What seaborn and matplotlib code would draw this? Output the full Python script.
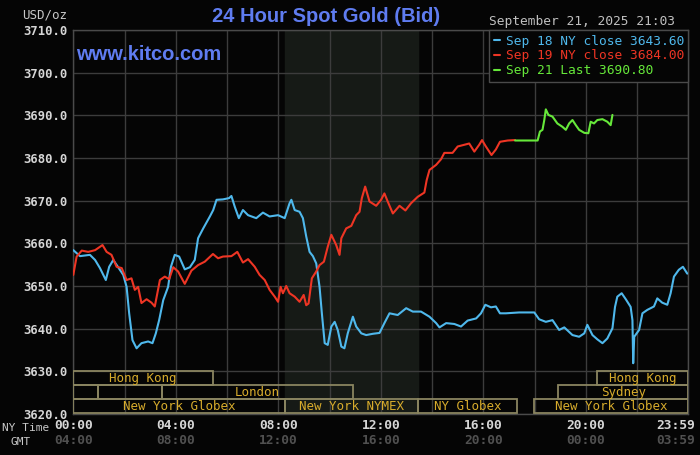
import numpy as np
import pandas as pd
import seaborn as sns
import matplotlib
matplotlib.use('Agg')
import matplotlib.pyplot as plt
from matplotlib.patches import Rectangle

## Data (hours since 00:00 NY time, price in USD/oz)
blue_t = [0, 0.26, 0.65, 0.85, 1.04, 1.27, 1.40, 1.56, 1.75, 1.95, 2.08, 2.18, 2.31, 2.47, 2.66,
          2.92, 3.09, 3.22, 3.35, 3.51, 3.70, 3.81, 3.96, 4.13, 4.35, 4.55, 4.74, 4.87, 5.07, 5.33,
          5.46, 5.59, 5.84, 6.08, 6.17, 6.30, 6.46, 6.62, 6.82, 7.14, 7.40, 7.66, 7.99, 8.25, 8.44,
          8.51, 8.64, 8.83, 8.96, 9.09, 9.22, 9.35, 9.48, 9.61, 9.70, 9.81, 9.93, 10.07, 10.20,
          10.32, 10.46, 10.58, 10.71, 10.91, 11.04, 11.24, 11.43, 11.69, 11.95, 12.14, 12.34, 12.66,
          12.99, 13.25, 13.57, 13.90, 14.16, 14.29, 14.55, 14.87, 15.13, 15.39, 15.72, 15.91, 16.08,
          16.30, 16.49, 16.65, 16.88, 17.40, 17.99, 18.18, 18.44, 18.70, 18.96, 19.16, 19.48, 19.74,
          19.94, 20.06, 20.26, 20.45, 20.65, 20.84, 21.04, 21.14, 21.23, 21.40, 21.56, 21.75, 21.82,
          21.85, 21.89, 22.08, 22.21, 22.40, 22.66, 22.79, 22.98, 23.18, 23.31, 23.44, 23.63, 23.79,
          23.96]
blue_v = [3658.4, 3657.0, 3657.3, 3656.1, 3654.2, 3651.4, 3654.5, 3656.1, 3654.4, 3652.6, 3649.8,
          3643.6, 3637.3, 3635.4, 3636.6, 3637.0, 3636.6, 3638.9, 3642.0, 3646.7, 3649.8, 3654.5,
          3657.3, 3656.9, 3653.9, 3654.4, 3656.1, 3661.2, 3663.5, 3666.3, 3667.8, 3670.2, 3670.3,
          3670.6, 3671.1, 3668.6, 3665.9, 3667.8, 3666.6, 3665.9, 3667.2, 3666.3, 3666.6, 3665.9,
          3669.4, 3670.2, 3667.8, 3667.4, 3665.9, 3661.6, 3658.0, 3657.0, 3655.3, 3649.8, 3643.6,
          3636.6, 3636.2, 3640.5, 3641.6, 3639.7, 3635.8, 3635.4, 3638.9, 3642.8, 3640.5, 3638.9,
          3638.5, 3638.8, 3639.0, 3641.3, 3643.6, 3643.2, 3644.8, 3644.0, 3644.0, 3642.8, 3641.3,
          3640.3, 3641.3, 3641.1, 3640.5, 3641.9, 3642.4, 3643.6, 3645.6, 3645.0, 3645.2, 3643.6,
          3643.6, 3643.8, 3643.8, 3642.2, 3641.6, 3642.0, 3639.7, 3640.3, 3638.5, 3638.1, 3638.9,
          3640.9, 3638.5, 3637.5, 3636.6, 3637.7, 3640.1, 3645.1, 3647.5, 3648.3, 3646.9, 3645.1,
          3642.0, 3631.9, 3638.1, 3639.7, 3643.6, 3644.4, 3645.2, 3647.1, 3646.1, 3645.6, 3648.3,
          3652.2, 3653.8, 3654.5, 3652.9]

red_t = [0, 0.13, 0.33, 0.58, 0.85, 1.14, 1.30, 1.49, 1.69, 1.89, 2.08, 2.27, 2.40, 2.53, 2.66,
         2.86, 3.05, 3.18, 3.38, 3.57, 3.74, 3.90, 4.09, 4.35, 4.61, 4.87, 5.13, 5.45, 5.65, 5.84,
         6.17, 6.40, 6.62, 6.82, 7.08, 7.27, 7.47, 7.66, 7.86, 7.99, 8.09, 8.18, 8.31, 8.44, 8.64,
         8.83, 8.99, 9.09, 9.18, 9.31, 9.48, 9.61, 9.78, 9.93, 10.07, 10.26, 10.39, 10.46, 10.65,
         10.85, 11.04, 11.17, 11.26, 11.39, 11.56, 11.82, 12.01, 12.14, 12.27, 12.47, 12.73, 12.96,
         13.18, 13.44, 13.70, 13.79, 13.90, 14.16, 14.35, 14.48, 14.80, 15.00, 15.26, 15.45, 15.65,
         15.84, 15.95, 16.10, 16.32, 16.49, 16.65, 16.95, 17.24]
red_v = [3652.6, 3656.9, 3658.3, 3658.0, 3658.4, 3659.6, 3658.0, 3657.3, 3654.5, 3654.2, 3651.4,
         3651.8, 3649.1, 3649.8, 3646.0, 3646.9, 3646.1, 3645.2, 3651.4, 3652.2, 3651.6, 3654.4,
         3653.4, 3650.5, 3653.6, 3654.9, 3655.7, 3657.5, 3656.5, 3656.9, 3657.0, 3658.0, 3655.5,
         3656.3, 3654.5, 3652.6, 3651.4, 3649.1, 3647.5, 3646.3, 3649.8, 3648.3, 3650.0, 3648.3,
         3647.5, 3646.3, 3647.9, 3645.5, 3645.9, 3651.8, 3653.4, 3654.9, 3655.7, 3659.2, 3662.0,
         3659.6, 3657.3, 3661.2, 3663.5, 3664.1, 3666.6, 3667.4, 3670.6, 3673.3, 3669.8, 3668.8,
         3670.2, 3671.7, 3669.8, 3667.0, 3668.8, 3667.7, 3669.4, 3670.9, 3671.9, 3674.8, 3677.2,
         3678.4, 3679.7, 3681.2, 3681.2, 3682.7, 3683.1, 3683.4, 3681.5, 3683.1, 3684.2, 3682.7,
         3680.7, 3682.0, 3683.8, 3684.1, 3684.2]

green_t = [17.24, 18.12, 18.21, 18.31, 18.38, 18.44, 18.54, 18.70, 18.89, 19.09, 19.22, 19.35,
           19.48, 19.61, 19.74, 19.94, 20.10, 20.19, 20.32, 20.45, 20.65, 20.84, 20.97, 21.04]
green_v = [3684.1, 3684.1, 3686.2, 3686.6, 3688.9, 3691.4, 3690.1, 3689.7, 3688.1, 3687.3, 3686.6,
           3688.1, 3688.9, 3687.7, 3686.6, 3685.9, 3685.8, 3688.5, 3688.1, 3688.9, 3689.1, 3688.5,
           3687.7, 3690.1]

series_labels = ['Sep 18 NY close 3643.60', 'Sep 19 NY close 3684.00', 'Sep 21 Last 3690.80']

## market sessions: label, row (0 = top), start hour, end hour
session_labels = ['Hong Kong', 'Hong Kong', '', '', 'London', 'Sydney',
                  'New York Globex', 'New York NYMEX', 'NY Globex', 'New York Globex']
session_rows = [0, 0, 1, 1, 1, 1, 2, 2, 2, 2]
session_start = [0, 20.45, 0, 0.95, 3.47, 18.93, 0, 8.25, 13.47, 17.99]
session_end = [5.45, 24, 0.95, 3.47, 10.9, 24, 8.25, 13.47, 17.31, 24]

ny_ticks = [0, 4, 8, 12, 16, 20, 24]
ny_labels = ['00:00', '04:00', '08:00', '12:00', '16:00', '20:00', '23:59']
gmt_labels = ['04:00', '08:00', '12:00', '16:00', '20:00', '00:00', '03:59']

## style
sns.set_theme(style='dark')
bg = '#050505'
mono = 'DejaVu Sans Mono'
plt.rcParams['font.family'] = ['DejaVu Sans']

fig = plt.figure(figsize=(7, 4.55), dpi=100, facecolor=bg)
ax = fig.add_axes([73.3 / 700, 1 - 414 / 455, 615 / 700, 384 / 455])
ax.set_facecolor(bg)

colors = ['#4fb8ec', '#ee3524', '#66e83a']
frames = [pd.DataFrame({'t': blue_t, 'v': blue_v}),
          pd.DataFrame({'t': red_t, 'v': red_v}),
          pd.DataFrame({'t': green_t, 'v': green_v})]

## NYMEX session shading
ax.axvspan(session_start[7], session_end[7], color='#161a16', zorder=0)

for df, c, lab in zip(frames, colors, series_labels):
    sns.lineplot(data=df, x='t', y='v', color=c, linewidth=1.5, label=lab, ax=ax, zorder=3)

ax.set_xlim(0, 24)
ax.set_ylim(3620, 3710)
ax.set_xticks(np.arange(0, 25, 2))
ax.set_yticks(np.arange(3620, 3711, 10))
ax.set_yticklabels(['%.1f' % v for v in np.arange(3620, 3711, 10)],
                   family=mono, fontsize=8.8, fontweight='bold', color='#d6d6d6')
ax.set_xticklabels([])
ax.tick_params(axis='both', length=0, pad=4)
ax.set_xlabel('')
ax.set_ylabel('')
ax.grid(True, color='#3c3c3c', linewidth=1)
ax.set_axisbelow(True)
for s in ax.spines.values():
    s.set_color('#4a4a4a')
    s.set_linewidth(1)

## session bars
row_edges = [3630, 3626.8, 3623.5, 3620.2]
for lab, r, a, b in zip(session_labels, session_rows, session_start, session_end):
    ax.add_patch(Rectangle((a, row_edges[r + 1]), b - a, row_edges[r] - row_edges[r + 1],
                           fill=False, edgecolor='#8a8560', linewidth=1.3, zorder=4))
    if lab:
        ax.text((a + b) / 2, (row_edges[r] + row_edges[r + 1]) / 2, lab, family=mono,
                fontsize=9, color='#d8ac2c', ha='center', va='center', zorder=5)

## time labels
xt = ax.get_xaxis_transform()
for h, ny, gmt in zip(ny_ticks, ny_labels, gmt_labels):
    ha = 'center'
    x = h
    if h == 24:
        ha = 'right'
        x = 24.25
    ax.text(x, -0.031, ny, transform=xt, ha=ha, va='center', family=mono, fontsize=9.3,
            fontweight='bold', color='#d6d6d6', clip_on=False)
    ax.text(x, -0.070, gmt, transform=xt, ha=ha, va='center', family=mono, fontsize=9.3,
            fontweight='bold', color='#505050', clip_on=False)
fig.text(2 / 700, 1 - 428 / 455, 'NY Time', family=mono, fontsize=8, color='#c8c8c8',
         ha='left', va='center')
fig.text(21 / 700, 1 - 442 / 455, 'GMT', family=mono, fontsize=8, color='#c8c8c8',
         ha='center', va='center')

## legend
leg = ax.legend(loc='upper right', borderaxespad=0, frameon=True, fancybox=False,
                handlelength=0.5, handletextpad=0.4, labelspacing=0.15, borderpad=0.35,
                prop={'family': mono, 'size': 9.3}, labelcolor='linecolor')
leg.get_frame().set_facecolor(bg)
leg.get_frame().set_edgecolor('#4a4a4a')
leg.get_frame().set_alpha(1)

## titles
fig.text(326 / 700, 1 - 17 / 455, '24 Hour Spot Gold (Bid)', family='Liberation Sans',
         fontsize=14.5, fontweight='bold', color='#5f7cf0', ha='center', va='center')
fig.text(76 / 700, 1 - 54 / 455, 'www.kitco.com', family='Liberation Sans',
         fontsize=14.5, fontweight='bold', color='#5f7cf0', ha='left', va='center')
fig.text(45 / 700, 1 - 15 / 455, 'USD/oz', family=mono, fontsize=9, color='#c8c8c8',
         ha='center', va='center')
fig.text(582 / 700, 1 - 22 / 455, 'September 21, 2025 21:03', family=mono, fontsize=9.3,
         color='#c0c0c0', ha='center', va='center')

fig.savefig('out.png', dpi=100, facecolor=bg)
